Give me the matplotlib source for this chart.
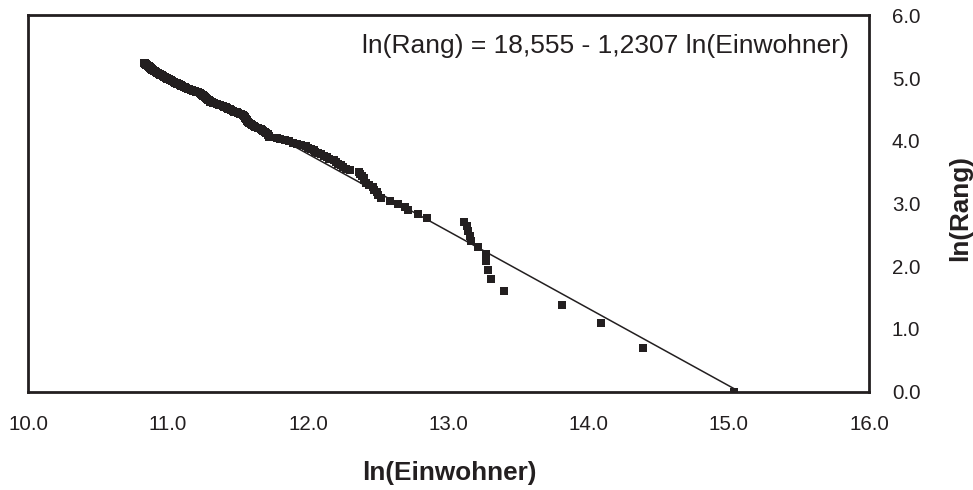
import numpy as np
import matplotlib
matplotlib.use("Agg")
import matplotlib.pyplot as plt

plt.rcParams['font.family'] = ['Liberation Sans', 'DejaVu Sans']

# ln(Einwohner) for cities ordered by rank (rank 1 = largest)
ln_einwohner = [
    15.04, 14.385, 14.085, 13.807, 13.395, 13.30, 13.28, 13.27, 13.27, 13.21,
    13.16, 13.15, 13.14, 13.13, 13.11, 12.85, 12.78, 12.71, 12.69, 12.64,
    12.58, 12.52, 12.50, 12.49, 12.47, 12.46, 12.43, 12.41, 12.40, 12.40,
    12.38, 12.37, 12.36, 12.30, 12.27, 12.25, 12.23, 12.21, 12.20, 12.18,
    12.15, 12.13, 12.11, 12.09, 12.07, 12.05, 12.04, 12.02, 12.00, 11.98,
    11.95, 11.92, 11.89, 11.86, 11.83, 11.80, 11.78, 11.72, 11.72, 11.71,
    11.71, 11.70, 11.69, 11.68, 11.67, 11.66, 11.64, 11.62, 11.61, 11.60,
    11.59, 11.58, 11.575, 11.57, 11.565, 11.56, 11.555, 11.55, 11.55, 11.545,
    11.54, 11.535, 11.52, 11.51, 11.50, 11.49, 11.47, 11.46, 11.45, 11.44,
    11.43, 11.42, 11.41, 11.40, 11.39, 11.37, 11.36, 11.35, 11.33, 11.32,
    11.31, 11.30, 11.295, 11.29, 11.285, 11.28, 11.275, 11.27, 11.265, 11.26,
    11.255, 11.25, 11.245, 11.24, 11.235, 11.23, 11.225, 11.21, 11.20, 11.19,
    11.18, 11.17, 11.16, 11.15, 11.14, 11.13, 11.125, 11.12, 11.11, 11.10,
    11.095, 11.09, 11.085, 11.08, 11.07, 11.065, 11.06, 11.05, 11.045, 11.04,
    11.03, 11.025, 11.02, 11.01, 11.005, 11.00, 10.995, 10.99, 10.985, 10.98,
    10.975, 10.97, 10.965, 10.96, 10.955, 10.95, 10.945, 10.94, 10.935, 10.93,
    10.925, 10.92, 10.915, 10.91, 10.905, 10.90, 10.897, 10.893, 10.89, 10.887,
    10.884, 10.881, 10.878, 10.875, 10.872, 10.869, 10.866, 10.863, 10.86, 10.857,
    10.854, 10.851, 10.848, 10.845, 10.842, 10.839, 10.836, 10.833, 10.83, 10.827,
]
rang = list(range(1, len(ln_einwohner) + 1))

# regression coefficients shown on the chart
intercept = 18.555
slope = -1.2307

x_ticks = [10.0, 11.0, 12.0, 13.0, 14.0, 15.0, 16.0]
y_ticks = [0.0, 1.0, 2.0, 3.0, 4.0, 5.0, 6.0]

ink = '#231f20'

x = np.array(ln_einwohner)
y = np.log(np.array(rang))

fig = plt.figure(figsize=(9.73, 4.90), dpi=100)
ax = fig.add_axes([28/973, 1 - 391.7/490, (869-28)/973, (391.7-15.3)/490])

xl = np.array([x.min(), x.max()])
ax.plot(xl, intercept + slope * xl, color=ink, lw=1.1, zorder=2)
ax.plot(x, y, linestyle='none', marker='s', markersize=5.6,
        color=ink, markeredgewidth=0, zorder=3)

ax.set_xlim(10, 16)
ax.set_ylim(0, 6)
ax.set_xticks(x_ticks)
ax.set_xticklabels([f"{v:.1f}" for v in x_ticks])
ax.set_yticks(y_ticks)
ax.set_yticklabels([f"{v:.1f}" for v in y_ticks])
ax.yaxis.tick_right()
ax.tick_params(axis='x', length=0, pad=17, labelsize=14.8, colors=ink)
ax.tick_params(axis='y', length=0, pad=16.5, labelsize=14.8, colors=ink)
for s in ax.spines.values():
    s.set_color(ink)
    s.set_linewidth(2.0)

fig.text(362/973, 1 - 46/490, "ln(Rang) = 18,555 - 1,2307 ln(Einwohner)",
         ha='left', va='center', fontsize=19.0, color=ink)
fig.text(449/973, 1 - 473/490, "ln(Einwohner)", ha='center', va='center',
         fontsize=18.8, fontweight='bold', color=ink)
fig.text(960/973, 1 - 208/490, "ln(Rang)", ha='center', va='center',
         rotation=90, fontsize=18.8, fontweight='bold', color=ink)

fig.savefig("out.png", dpi=100)
